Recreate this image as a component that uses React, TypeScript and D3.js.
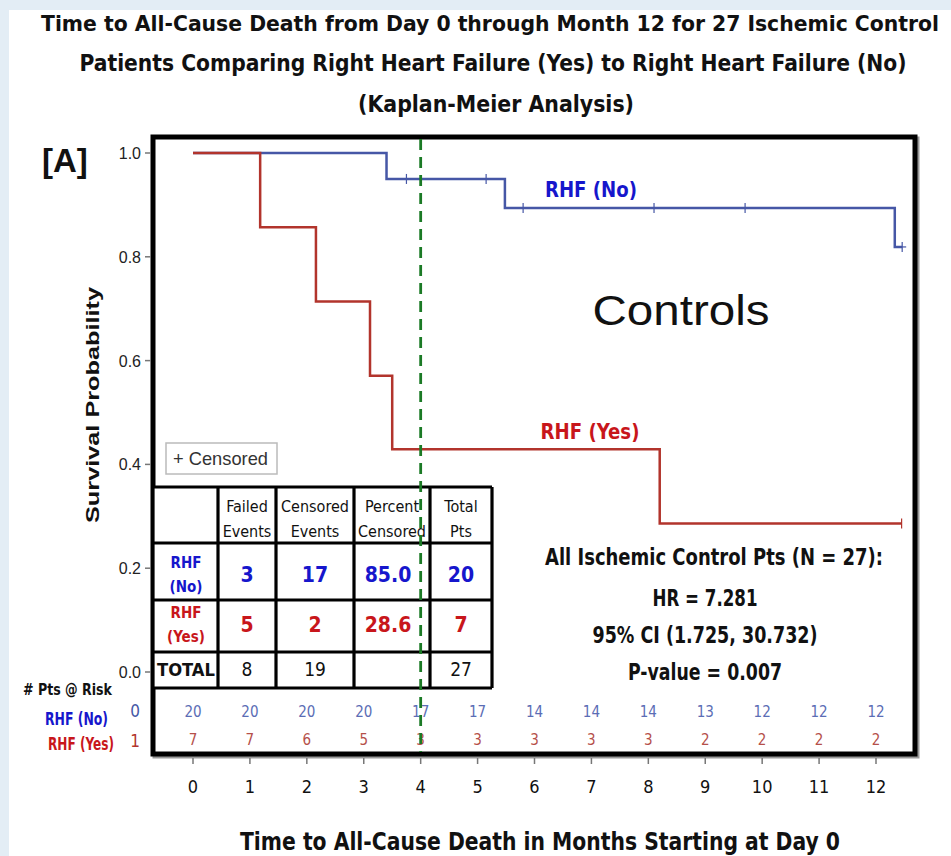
import React from "react";
import * as d3 from "d3";

// survival curves (months, probability)
const noTimes = [0, 3.4, 5.48, 12.33, 12.46];
const noSurv = [1.0, 0.95, 0.894, 0.819, 0.819];
const yesTimes = [0, 1.18, 2.16, 3.11, 3.5, 8.2, 12.45];
const yesSurv = [1.0, 0.857, 0.714, 0.571, 0.429, 0.286, 0.286];
const noCensored = [3.75, 5.15, 5.8, 8.1, 9.7, 12.46];
const yesCensored = [12.45];

const xTicks = [0, 1, 2, 3, 4, 5, 6, 7, 8, 9, 10, 11, 12];
const yTicks = [0, 0.2, 0.4, 0.6, 0.8, 1.0];
const riskNo = [20, 20, 20, 20, 17, 17, 14, 14, 14, 13, 12, 12, 12];
const riskYes = [7, 7, 6, 5, 3, 3, 3, 3, 3, 2, 2, 2, 2];

const tableHead = [["Failed", "Events"], ["Censored", "Events"], ["Percent", "Censored"], ["Total", "Pts"]];
const rowNo = ["3", "17", "85.0", "20"];
const rowYes = ["5", "2", "28.6", "7"];
const rowTotal = ["8", "19", "", "27"];

const titleLines = [
  "Time to All-Cause Death from Day 0 through Month 12 for 27 Ischemic Control",
  "Patients Comparing Right Heart Failure (Yes) to Right Heart Failure (No)",
  "(Kaplan-Meier Analysis)",
];
const statLines = ["All Ischemic Control Pts (N = 27):", "HR = 7.281", "95% CI (1.725, 30.732)", "P-value = 0.007"];

const W = 951;
const H = 856;
const COND = "'DejaVu Sans Condensed', 'Liberation Sans Narrow', Arial, sans-serif";
const SANS = "'Liberation Sans', Arial, sans-serif";
const BLUE = "#4657a6";
const RED = "#b2342c";
const LBLUE = "#1616cc";
const LRED = "#c8161b";
const GREEN = "#1b7a25";

const frame = { x0: 153, y0: 137, x1: 915, y1: 754 };

export default function App() {
  const x = d3.scaleLinear().domain([0, 12]).range([193, 876]);
  const y = d3.scaleLinear().domain([0, 1]).range([672, 153]);

  const line = d3
    .line<[number, number]>()
    .x((d) => x(d[0]))
    .y((d) => y(d[1]))
    .curve(d3.curveStepAfter);

  const survAt = (times: number[], surv: number[], t: number) => {
    const i = d3.bisectRight(times, t) - 1;
    return surv[Math.max(0, i)];
  };

  const noPts = noTimes.map((t, i) => [t, noSurv[i]] as [number, number]);
  const yesPts = yesTimes.map((t, i) => [t, yesSurv[i]] as [number, number]);

  // table geometry
  const colX = [153, 218, 276, 354, 430, 492];
  const rowY = [487, 543, 600, 652, 688];
  const colMid = (i: number) => (colX[i + 1] + colX[i + 2]) / 2;

  const censorMark = (t: number, v: number, color: string, key: string) => (
    <line key={key} x1={x(t)} x2={x(t)} y1={y(v) - 5} y2={y(v) + 5} stroke={color} strokeWidth={1.2} />
  );

  return (
    <svg width={W} height={H} style={{ position: "absolute", left: 0, top: 0 }}>
      <rect width={W} height={H} fill="#e3edf5" />
      <rect x={9} y={10} width={W - 9} height={H - 10} fill="#ffffff" />

      {/* title */}
      {titleLines.map((t, i) => (
        <text
          key={t}
          x={[490, 493, 496][i]}
          y={[31, 71, 112][i]}
          textAnchor="middle"
          fontFamily={COND}
          fontWeight="bold"
          fontSize={[21, 23, 23][i]}
          fill="#111"
          textLength={[898, 827, 276][i]}
          lengthAdjust="spacingAndGlyphs"
        >
          {t}
        </text>
      ))}

      <text x={42} y={172} fontFamily={SANS} fontWeight="bold" fontSize={33} fill="#111">
        [A]
      </text>

      {/* frame */}
      <rect x={frame.x0 + 2} y={frame.y0 + 2} width={frame.x1 - frame.x0} height={frame.y1 - frame.y0} fill="none" stroke="#999" strokeWidth={5} />
      <rect x={frame.x0} y={frame.y0} width={frame.x1 - frame.x0} height={frame.y1 - frame.y0} fill="#fff" stroke="#000" strokeWidth={5} />

      {/* y axis */}
      {yTicks.map((v) => (
        <g key={v}>
          <line x1={145} x2={151} y1={y(v)} y2={y(v)} stroke="#777" strokeWidth={1.5} />
          <text x={141} y={y(v) + 6} textAnchor="end" fontFamily={SANS} fontSize={16} fill="#222">
            {d3.format(".1f")(v)}
          </text>
        </g>
      ))}
      <text
        transform={`translate(99,405) rotate(-90)`}
        textAnchor="middle"
        fontFamily={SANS}
        fontWeight="bold"
        fontSize={18}
        fill="#111"
        textLength={236}
        lengthAdjust="spacingAndGlyphs"
      >
        Survival Probability
      </text>

      {/* x axis */}
      {xTicks.map((t) => (
        <g key={t}>
          <line x1={x(t)} x2={x(t)} y1={758} y2={764} stroke="#777" strokeWidth={1.5} />
          <text x={x(t)} y={793} textAnchor="middle" fontFamily={COND} fontSize={18} fill="#111">
            {t}
          </text>
        </g>
      ))}
      <text x={540} y={850} textAnchor="middle" fontFamily={COND} fontWeight="bold" fontSize={24} fill="#111" textLength={600} lengthAdjust="spacingAndGlyphs">
        Time to All-Cause Death in Months Starting at Day 0
      </text>

      {/* curves */}
      <path d={line(noPts) || ""} fill="none" stroke={BLUE} strokeWidth={2.5} />
      <path d={line(yesPts) || ""} fill="none" stroke={RED} strokeWidth={2.5} />
      {noCensored.map((t, i) => censorMark(t, survAt(noTimes, noSurv, t), BLUE, "n" + i))}
      {yesCensored.map((t, i) => censorMark(t, survAt(yesTimes, yesSurv, t), RED, "y" + i))}
      <line x1={x(12.46) - 4} x2={x(12.46) + 4} y1={y(0.819)} y2={y(0.819)} stroke={BLUE} strokeWidth={1.2} />

      <text x={591} y={197} textAnchor="middle" fontFamily={COND} fontWeight="bold" fontSize={22} fill={LBLUE} textLength={92} lengthAdjust="spacingAndGlyphs">
        RHF (No)
      </text>
      <text x={590} y={439} textAnchor="middle" fontFamily={COND} fontWeight="bold" fontSize={22} fill={LRED} textLength={99} lengthAdjust="spacingAndGlyphs">
        RHF (Yes)
      </text>
      <text x={681} y={325} textAnchor="middle" fontFamily={SANS} fontSize={42} fill="#111" textLength={177} lengthAdjust="spacingAndGlyphs">
        Controls
      </text>

      {/* stats */}
      {statLines.map((s, i) => (
        <text
          key={s}
          x={[714, 705, 705, 705][i]}
          y={[565, 606, 643, 680][i]}
          textAnchor="middle"
          fontFamily={COND}
          fontWeight="bold"
          fontSize={23}
          fill="#111"
          textLength={[338, 105, 225, 154][i]}
          lengthAdjust="spacingAndGlyphs"
        >
          {s}
        </text>
      ))}

      {/* censored legend */}
      <rect x={166} y={443} width={111} height={31} fill="#fff" stroke="#bbb" strokeWidth={1.5} />
      <text x={173} y={465} fontFamily={SANS} fontSize={19} fill="#333" textLength={95} lengthAdjust="spacingAndGlyphs">
        + Censored
      </text>

      {/* events table */}
      <g>
        <rect x={colX[0]} y={rowY[0]} width={colX[5] - colX[0]} height={rowY[4] - rowY[0]} fill="#fff" />
        {rowY.map((ry) => (
          <line key={ry} x1={colX[0]} x2={colX[5]} y1={ry} y2={ry} stroke="#000" strokeWidth={3.2} />
        ))}
        {colX.map((cx) => (
          <line key={cx} x1={cx} x2={cx} y1={rowY[0]} y2={rowY[4]} stroke="#000" strokeWidth={3.2} />
        ))}
        {tableHead.map((h, i) => (
          <g key={i} fontFamily={COND} fontSize={16} fill="#111" textAnchor="middle">
            <text x={colMid(i)} y={512}>{h[0]}</text>
            <text x={colMid(i)} y={537}>{h[1]}</text>
          </g>
        ))}
        <g fontFamily={COND} fontWeight="bold" fontSize={15} textAnchor="middle">
          <text x={186} y={568} fill={LBLUE}>RHF</text>
          <text x={186} y={592} fill={LBLUE}>(No)</text>
          <text x={186} y={618} fill={LRED}>RHF</text>
          <text x={186} y={642} fill={LRED}>(Yes)</text>
          <text x={186} y={676} fill="#111" fontSize={18} textLength={58} lengthAdjust="spacingAndGlyphs">TOTAL</text>
        </g>
        {[rowNo, rowYes, rowTotal].map((row, r) =>
          row.map((v, i) => (
            <text
              key={r + "-" + i}
              x={colMid(i) + (i === 2 ? -4 : 0)}
              y={[582, 632, 676][r]}
              textAnchor="middle"
              fontFamily={COND}
              fontWeight={r < 2 ? "bold" : "normal"}
              fontSize={r < 2 ? 21 : 19}
              fill={[LBLUE, LRED, "#111"][r]}
            >
              {v}
            </text>
          ))
        )}
      </g>

      {/* risk table */}
      <text x={112} y={695} textAnchor="end" fontFamily={COND} fontWeight="bold" fontSize={16} fill="#111" textLength={89} lengthAdjust="spacingAndGlyphs">
        # Pts @ Risk
      </text>
      <text x={108} y={725} textAnchor="end" fontFamily={COND} fontWeight="bold" fontSize={17} fill={LBLUE} textLength={63} lengthAdjust="spacingAndGlyphs">
        RHF (No)
      </text>
      <text x={114} y={750} textAnchor="end" fontFamily={COND} fontWeight="bold" fontSize={17} fill={LRED} textLength={66} lengthAdjust="spacingAndGlyphs">
        RHF (Yes)
      </text>
      <text x={135} y={717} textAnchor="middle" fontFamily={COND} fontSize={17} fill={BLUE}>0</text>
      <text x={135} y={747} textAnchor="middle" fontFamily={COND} fontSize={17} fill={RED}>1</text>
      {xTicks.map((t, i) => (
        <g key={t} fontFamily={COND} fontSize={15} textAnchor="middle">
          <text x={x(t)} y={717} fill="#5b6db5">{riskNo[i]}</text>
          <text x={x(t)} y={745} fill="#b5504a">{riskYes[i]}</text>
        </g>
      ))}

      {/* month 4 reference line */}
      <line x1={x(4)} x2={x(4)} y1={frame.y0 + 2} y2={frame.y1 - 2} stroke={GREEN} strokeWidth={2.8} strokeDasharray="11,7" />
    </svg>
  );
}
